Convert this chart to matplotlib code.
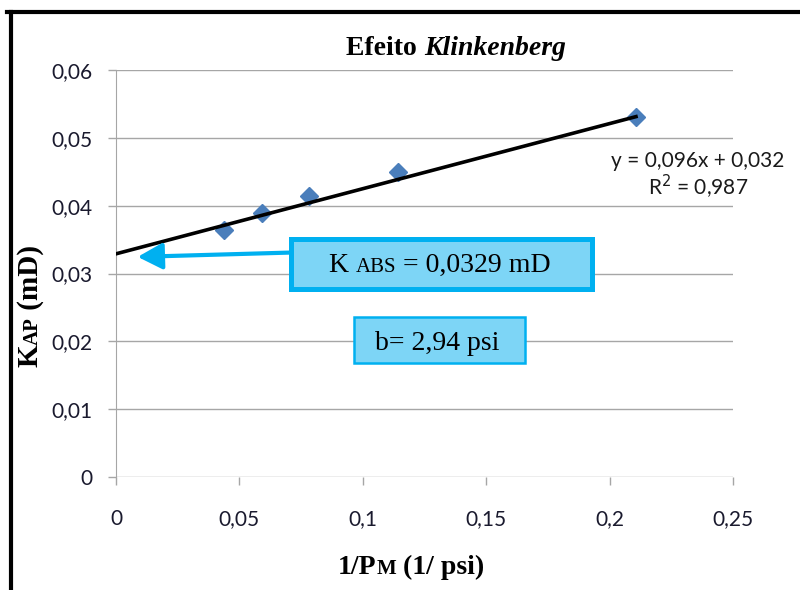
import matplotlib
matplotlib.use("Agg")
import matplotlib.pyplot as plt
import matplotlib.patches as mpatches
from matplotlib.transforms import IdentityTransform
from matplotlib.ticker import FuncFormatter
import numpy as np

# data
inv_pm = [0.0438, 0.0592, 0.0782, 0.1143, 0.2107]
k_ap = [0.0364, 0.0389, 0.0414, 0.0450, 0.0531]
slope = 0.096
intercept = 0.0329
x_ticks = [0, 0.05, 0.1, 0.15, 0.2, 0.25]
y_ticks = [0, 0.01, 0.02, 0.03, 0.04, 0.05, 0.06]

W, H = 800, 590
fig = plt.figure(figsize=(8, 5.9), dpi=100)
ax = fig.add_axes([116 / W, 1 - 477 / H, (733 - 116) / W, (477 - 70) / H])

ax.plot(inv_pm, k_ap, "D", color="#4A7EBB", markersize=9, zorder=3)
xl = np.array([0, max(inv_pm)])
ax.plot(xl, slope * xl + intercept, color="black", lw=2.6, zorder=4)

ax.set_xlim(0, 0.25)
ax.set_ylim(0, 0.06)
ax.set_xticks(x_ticks)
ax.set_yticks(y_ticks)
fmt = FuncFormatter(lambda v, p: ("%g" % round(v, 3)).replace(".", ","))
ax.xaxis.set_major_formatter(fmt)
ax.yaxis.set_major_formatter(fmt)
ax.grid(axis="y", color="#A6A6A6", lw=1)
ax.set_axisbelow(True)
for s in ["top", "right", "bottom"]:
    ax.spines[s].set_visible(False)
ax.spines["left"].set_color("#A6A6A6")
ax.tick_params(axis="both", colors="#A6A6A6", labelcolor="#1a1a2e", labelsize=15,
               length=6, width=1)
ax.tick_params(axis="x", pad=17)
ax.tick_params(axis="y", pad=11)
for lab in ax.get_xticklabels() + ax.get_yticklabels():
    lab.set_fontfamily("Lato")

# trendline label
fig.text(698 / W, 1 - 161 / H, "y = 0,096x + 0,032", ha="center", va="center",
         fontsize=15, family="Lato", color="#1a1a1a")
fig.text(698 / W, 1 - 187 / H, "R$^2$ = 0,987", ha="center", va="center",
         fontsize=15, family="Lato", color="#1a1a1a")

# arrow pointing at the intercept
ax.annotate("", xy=(0.0088, 0.03245), xytext=(0.072, 0.0331),
            arrowprops=dict(arrowstyle="-|>,head_length=1.5,head_width=0.8",
                            color="#00B0F0", lw=3, shrinkA=0, shrinkB=0), zorder=5)

# boxes
fig.patches.append(mpatches.Rectangle((290.5 / W, 1 - 288.5 / H), 301 / W, 50 / H,
                                      transform=fig.transFigure, facecolor="#7DD5F6",
                                      edgecolor="#00B0F0", lw=3.6, zorder=6))
fig.patches.append(mpatches.Rectangle((354 / W, 1 - 363 / H), 171 / W, 46 / H,
                                      transform=fig.transFigure, facecolor="#7DD5F6",
                                      edgecolor="#00B0F0", lw=1.8, zorder=6))

renderer = fig.canvas.get_renderer()


def make_parts(parts):
    texts = []
    for s, size, weight, style in parts:
        t = fig.text(0, 0, s, transform=IdentityTransform(), fontsize=size,
                     family="Liberation Serif", weight=weight, style=style,
                     ha="left", va="baseline", rotation_mode="anchor", zorder=10)
        texts.append(t)
    widths = [t.get_window_extent(renderer).width for t in texts]
    return texts, widths


def rich_text(xc, yb, parts):
    # xc centre, yb baseline, in pixels from the top-left
    texts, widths = make_parts(parts)
    pos = xc - sum(widths) / 2
    for t, w in zip(texts, widths):
        t.set_position((pos, H - yb))
        pos += w


def rich_vertical(xb, yc, parts):
    texts, widths = make_parts(parts)
    pos = H - yc - sum(widths) / 2
    for t, w in zip(texts, widths):
        t.set_rotation(90)
        t.set_position((xb, pos))
        pos += w


rich_text(456, 55, [("Efeito ", 20, "bold", "normal"), ("Klinkenberg", 20, "bold", "italic")])
rich_text(411, 574, [("1/P", 20, "bold", "normal"), ("M", 15, "bold", "normal"),
                     (" (1/ psi)", 20, "bold", "normal")])
rich_vertical(38, 306, [("K", 21, "bold", "normal"), ("AP", 15, "bold", "normal"),
                        (" (mD)", 21, "bold", "normal")])
rich_text(440, 272, [("K ", 20, "normal", "normal"), ("ABS", 15, "normal", "normal"),
                     (" = 0,0329 mD", 20, "normal", "normal")])
rich_text(437, 350, [("b= 2,94 psi", 20, "normal", "normal")])

# frame lines (top and left)
fig.add_artist(plt.Line2D([7 / W, 1], [1 - 12 / H, 1 - 12 / H], transform=fig.transFigure,
                          color="black", lw=3))
fig.add_artist(plt.Line2D([11 / W, 11 / W], [0, 1 - 12 / H], transform=fig.transFigure,
                          color="black", lw=3))

fig.savefig("out.png", dpi=100)
